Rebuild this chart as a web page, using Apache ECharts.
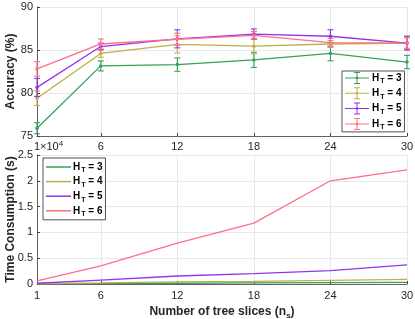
<!DOCTYPE html>
<html><head><meta charset="utf-8">
<script src="https://cdn.jsdelivr.net/npm/echarts@6/dist/echarts.min.js"></script>
<style>html,body{margin:0;padding:0;background:#fff}#c{width:415px;height:319px}</style>
</head><body><div id="c"></div>
<script>
const xVals = [1, 6, 12, 18, 24, 30];
const names = ['3', '4', '5', '6'];
const acc3 = [75.9, 83.15, 83.3, 83.85, 84.6, 83.6];
const err3 = [0.65, 0.58, 0.78, 0.88, 0.85, 0.78];
const acc4 = [79.4, 84.6, 85.65, 85.45, 85.7, 85.8];
const err4 = [0.85, 0.45, 1.0, 0.9, 0.4, 0.8];
const acc5 = [80.65, 85.4, 86.3, 86.85, 86.6, 85.8];
const err5 = [1.05, 0.4, 1.05, 0.6, 0.75, 0.8];
const acc6 = [82.8, 85.7, 86.25, 86.7, 85.85, 85.8];
const err6 = [0.85, 0.58, 0.7, 0.45, 0.5, 0.6];
const time3 = [0.003, 0.008, 0.015, 0.02, 0.025, 0.03];
const time4 = [0.005, 0.02, 0.04, 0.05, 0.07, 0.09];
const time5 = [0.015, 0.075, 0.155, 0.2, 0.26, 0.37];
const time6 = [0.06, 0.35, 0.79, 1.18, 2.0, 2.21];
const yTop = [75, 80, 85, 90];
const yBot = [0, 0.5, 1, 1.5, 2, 2.5];

const colors = ['#35a058', '#bfae4c', '#9333f0', '#ff6e84'];
const accs = [acc3, acc4, acc5, acc6];
const errs = [err3, err4, err5, err6];
const times = [time3, time4, time5, time6];
const FONT = 'Liberation Sans';
const axisColor = '#404040';

const legendText = n => '{h|H}{t|T}{h| = ' + n + '}';
const seriesName = n => 'H_T = ' + n;
const legendRich = {
  h: {fontFamily: FONT, fontWeight: 'bold', fontSize: 10, color: '#000', lineHeight: 14},
  t: {fontFamily: FONT, fontWeight: 'bold', fontSize: 7, color: '#000', lineHeight: 14, verticalAlign: 'bottom', padding: [5, 0, 0, 1]}
};
const errIcon = 'path://M0,5.5H24V6.5H0Z M11.5,0.5H12.5V11.5H11.5Z M9,0H15V1H9Z M9,11H15V12H9Z M12,4.6A1.4,1.4 0 1 1 11.99,4.6Z';

function errRender(params, api) {
  const x = api.value(0), lo = api.value(1), hi = api.value(2);
  const p1 = api.coord([x, lo]), p2 = api.coord([x, hi]);
  const c = api.visual('color');
  const w = 3;
  const st = {stroke: c, lineWidth: 1.1};
  return {type: 'group', children: [
    {type: 'line', shape: {x1: p1[0], y1: p1[1], x2: p2[0], y2: p2[1]}, style: st},
    {type: 'line', shape: {x1: p1[0] - w, y1: p1[1], x2: p1[0] + w, y2: p1[1]}, style: st},
    {type: 'line', shape: {x1: p2[0] - w, y1: p2[1], x2: p2[0] + w, y2: p2[1]}, style: st}
  ]};
}

const series = [];
names.forEach((n, i) => {
  series.push({
    type: 'line', name: seriesName(n), xAxisIndex: 0, yAxisIndex: 0,
    data: xVals.map((x, j) => [x, accs[i][j]]),
    color: colors[i], symbol: 'circle', symbolSize: 3.5,
    lineStyle: {width: 1.3, color: colors[i]}, itemStyle: {color: colors[i]}, z: 3 + i
  });
  series.push({
    type: 'custom', name: seriesName(n), xAxisIndex: 0, yAxisIndex: 0,
    renderItem: errRender, itemStyle: {color: colors[i]},
    encode: {x: 0, y: [1, 2]},
    data: xVals.map((x, j) => [x, accs[i][j] - errs[i][j], accs[i][j] + errs[i][j]]), z: 3 + i
  });
});
names.forEach((n, i) => {
  series.push({
    type: 'line', name: 'T ' + n, xAxisIndex: 1, yAxisIndex: 1,
    data: xVals.map((x, j) => [x, times[i][j]]),
    color: colors[i], symbol: 'none', showSymbol: false,
    lineStyle: {width: 1.3, color: colors[i]}, z: 3 + i
  });
});

const xAxisBase = (gi) => ({
  type: 'value', gridIndex: gi, min: 1, max: 30,
  axisLine: {show: true, onZero: false, lineStyle: {color: axisColor, width: 0.8}},
  axisTick: {show: true, inside: true, length: 3, customValues: xVals, lineStyle: {color: axisColor}},
  axisLabel: {customValues: xVals, fontFamily: FONT, fontSize: 11, color: '#262626', margin: 5},
  splitLine: {show: true, lineStyle: {color: '#e8e8e8', width: 1}}
});
const xAxis0 = xAxisBase(0);
const xAxis1 = xAxisBase(1);
xAxis1.axisLabel.margin = 6;
xAxis1.name = '{b|Number of tree slices (n}{s|s}{b|)}';
xAxis1.nameLocation = 'middle';
xAxis1.nameGap = 20;
xAxis1.nameMoveOverlap = false;
xAxis1.nameTextStyle = {rich: {
  b: {fontFamily: FONT, fontWeight: 'bold', fontSize: 12, color: '#262626', lineHeight: 16},
  s: {fontFamily: FONT, fontWeight: 'bold', fontSize: 8, color: '#262626', lineHeight: 16, verticalAlign: 'bottom', padding: [6, 0, 0, 0]}
}};

const yAxisBase = (gi, mn, mx, iv, nm) => ({
  type: 'value', gridIndex: gi, min: mn, max: mx, interval: iv,
  name: nm, nameLocation: 'middle', nameGap: 20, nameMoveOverlap: false,
  nameTextStyle: {fontFamily: FONT, fontWeight: 'bold', fontSize: 12, color: '#262626'},
  axisLine: {show: true, lineStyle: {color: axisColor, width: 0.8}},
  axisTick: {show: true, inside: true, length: 3, lineStyle: {color: axisColor}},
  axisLabel: {fontFamily: FONT, fontSize: 11, color: '#262626', margin: 4},
  splitLine: {show: true, lineStyle: {color: '#e8e8e8', width: 1}}
});

const option = {
  animation: false,
  backgroundColor: '#fff',
  grid: [
    {left: 37, top: 7, width: 370, height: 129, containLabel: false, outerBoundsMode: 'none'},
    {left: 37, top: 155, width: 370, height: 129, containLabel: false, outerBoundsMode: 'none'}
  ],
  xAxis: [xAxis0, xAxis1],
  yAxis: [
    yAxisBase(0, yTop[0], yTop[yTop.length - 1], 5, 'Accuracy (%)'),
    yAxisBase(1, yBot[0], yBot[yBot.length - 1], 0.5, 'Time Consumption (s)')
  ],
  legend: [
    {
      data: names.map(n => ({name: seriesName(n), icon: errIcon})),
      orient: 'vertical', left: 342, top: 71, padding: [1, 3, 1, 3],
      itemWidth: 24, itemHeight: 12, itemGap: 2.3,
      backgroundColor: '#fff', borderColor: '#262626', borderWidth: 0.8, borderRadius: 0,
      formatter: name => legendText(name.slice(-1)),
      textStyle: {rich: legendRich, padding: [0, 0, 0, -2]},
      itemStyle: {borderWidth: 0}, selectedMode: false
    },
    {
      data: names.map(n => ({name: 'T ' + n, icon: 'rect'})),
      orient: 'vertical', left: 43, top: 158, padding: [4, 3, 2, 3],
      itemWidth: 25, itemHeight: 1.5, itemGap: 2.6,
      backgroundColor: '#fff', borderColor: '#262626', borderWidth: 0.8, borderRadius: 0,
      formatter: name => legendText(name.slice(-1)),
      textStyle: {rich: legendRich, padding: [0, 0, 0, -3]},
      itemStyle: {borderWidth: 0}, selectedMode: false
    }
  ],
  graphic: [{
    type: 'text', left: 40, top: 140, z: 10,
    style: {text: '{a|×10}{b|4}', rich: {
      a: {fontFamily: FONT, fontSize: 11, fill: '#262626', lineHeight: 14},
      b: {fontFamily: FONT, fontSize: 8, fill: '#262626', lineHeight: 14, verticalAlign: 'top', padding: [0, 0, 5, 0]}
    }}
  }],
  series: series
};
const chart = echarts.init(document.getElementById('c'), null, {renderer: 'canvas'});
chart.setOption(option);
</script></body></html>
